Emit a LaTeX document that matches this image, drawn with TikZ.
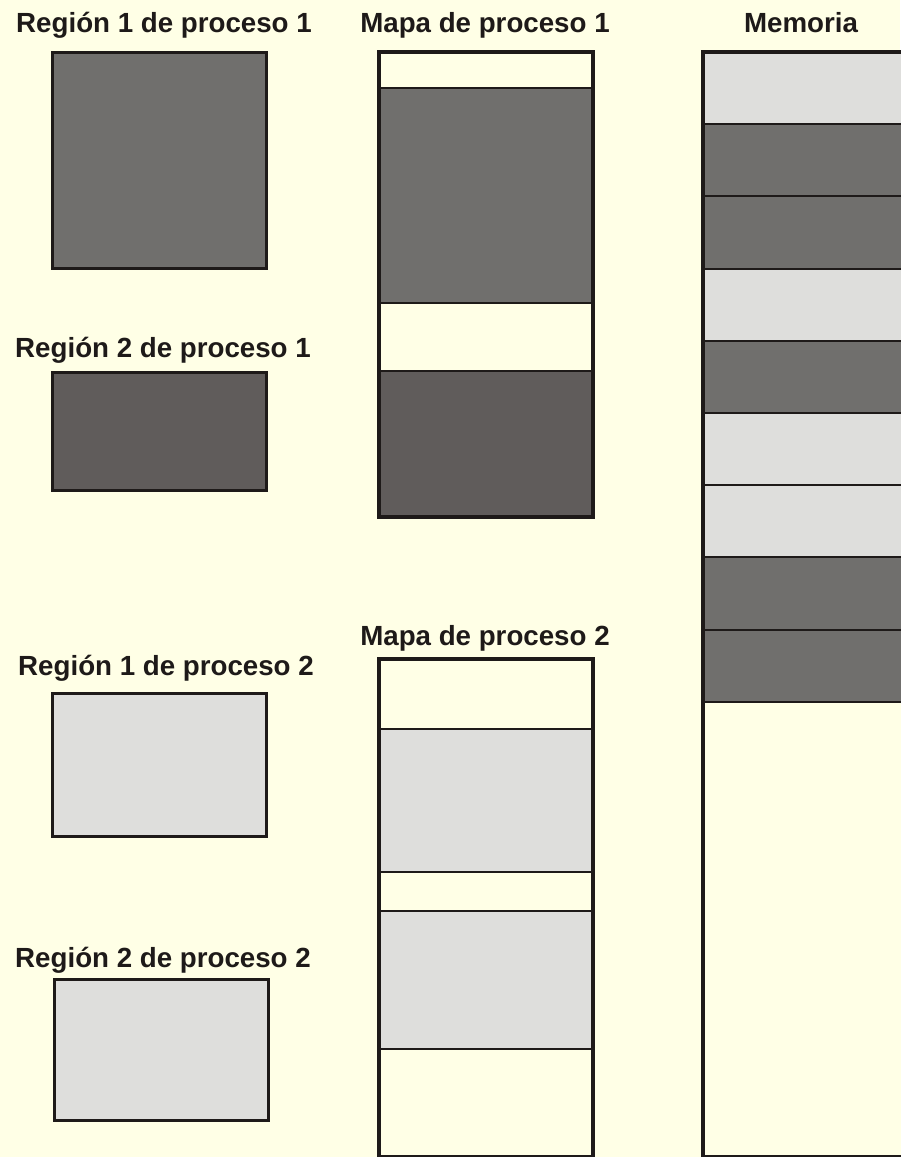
\documentclass[tikz,border=0pt]{standalone}
\usepackage{fontspec}
\setmainfont{Liberation Sans}
\usetikzlibrary{positioning}

\definecolor{fondo}{HTML}{FFFFE6}
\definecolor{linea}{HTML}{1E1A19}
\definecolor{oscuro}{HTML}{706F6D}
\definecolor{masoscuro}{HTML}{605C5B}
\definecolor{claro}{HTML}{DEDEDC}

\begin{document}
\begin{tikzpicture}[
  x=1pt, y=-1pt,
  titulo/.style={font=\fontsize{27.7}{32}\selectfont\bfseries, text=linea, anchor=base, inner sep=0pt},
  region/.style={draw=linea, line width=3pt, anchor=north west, inner sep=0pt, outer sep=0pt, minimum width=214pt},
  franja/.style={draw=linea, line width=2pt, anchor=north west, inner sep=0pt, outer sep=0pt, minimum width=214pt},
  marco/.style={draw=linea, line width=3.5pt}
]
\fill[fondo] (0,0) rectangle (900,1157);
\useasboundingbox (0,0) rectangle (900,1157);

% titulos
\node[titulo] (t-r1p1) at (164,32) {Región 1 de proceso 1};
\node[titulo] (t-r2p1) at (163,357) {Región 2 de proceso 1};
\node[titulo] (t-r1p2) at (166,675) {Región 1 de proceso 2};
\node[titulo] (t-r2p2) at (163,967) {Región 2 de proceso 2};
\node[titulo] (t-mapa1) at (485,32) {Mapa de proceso 1};
\node[titulo] (t-mapa2) at (485,645) {Mapa de proceso 2};
\node[titulo] (t-mem) at (801,32) {Memoria};

% regiones
\node[region, fill=oscuro, minimum height=216pt] (r1p1) at (52,52) {};
\node[region, fill=masoscuro, minimum height=118pt] (r2p1) at (52,372) {};
\node[region, fill=claro, minimum height=143pt] (r1p2) at (52,693) {};
\node[region, fill=claro, minimum height=141pt] (r2p2) at (54,979) {};

% mapa de proceso 1
\node[franja, fill=fondo, minimum height=36pt] (m1a) at (379,52) {};
\node[franja, fill=oscuro, minimum height=215pt] (m1b) at (379,88) {};
\node[franja, fill=fondo, minimum height=68pt] (m1c) at (379,303) {};
\node[franja, fill=masoscuro, minimum height=146pt] (m1d) at (379,371) {};
\draw[marco] (m1a.north west) rectangle (m1d.south east);

% mapa de proceso 2
\node[franja, fill=fondo, minimum height=70pt] (m2a) at (379,659) {};
\node[franja, fill=claro, minimum height=143pt] (m2b) at (379,729) {};
\node[franja, fill=fondo, minimum height=39pt] (m2c) at (379,872) {};
\node[franja, fill=claro, minimum height=138pt] (m2d) at (379,911) {};
\node[franja, fill=fondo, minimum height=108pt] (m2e) at (379,1049) {};
\draw[marco] (m2a.north west) rectangle (m2e.south east);

% memoria
\foreach \c [count=\i from 0] in {claro,oscuro,oscuro,claro,oscuro,claro,claro,oscuro,oscuro}
  \node[franja, fill=\c, minimum width=230pt, minimum height=72.2pt] (mem\i) at (703,52+72.2*\i) {};
\node[franja, fill=fondo, minimum width=230pt, minimum height=455pt] (mem9) at (703,702) {};
\draw[marco] (mem0.north west) rectangle (mem9.south east);
\end{tikzpicture}
\end{document}
